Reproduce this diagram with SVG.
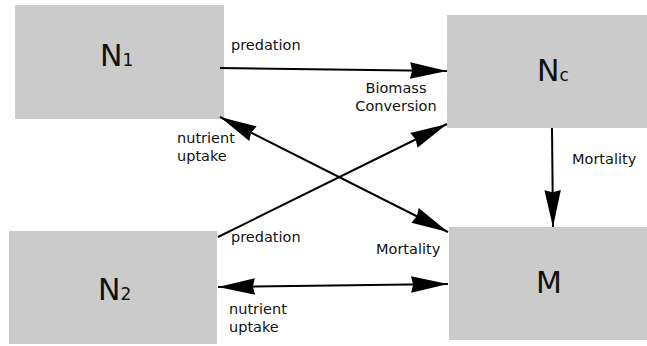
<svg xmlns="http://www.w3.org/2000/svg" width="647" height="346" viewBox="0 0 647 346">
<style>
.box{fill:#cbcbcb}
.big{font-family:"DejaVu Sans",sans-serif;font-size:30px;fill:#111}
.sub{font-size:17px}
.lbl{font-family:"DejaVu Sans",sans-serif;font-size:14.5px;fill:#111}
.c{stroke:#000;stroke-width:2;fill:none}
</style>
<defs>
<marker id="ah" markerUnits="userSpaceOnUse" markerWidth="40" markerHeight="20" viewBox="-37 -9 39 18" refX="0" refY="0" orient="auto-start-reverse">
<path d="M0,0 L-36,-8 L-34,0 L-36,8 Z" fill="#000"/>
</marker>
</defs>
<rect width="647" height="346" fill="#fff"/>
<g id="N1"><rect class="box" x="15" y="5" width="209" height="114"/><text class="big" x="100" y="66">N<tspan class="sub">1</tspan></text></g>
<g id="Nc"><rect class="box" x="447" y="15" width="200" height="113"/><text class="big" x="537" y="81">N<tspan class="sub">c</tspan></text></g>
<g id="N2"><rect class="box" x="9" y="231" width="208" height="113"/><text class="big" x="98" y="300">N<tspan class="sub">2</tspan></text></g>
<g id="M"><rect class="box" x="449" y="227" width="198" height="113"/><text class="big" x="536" y="293">M</text></g>
<g id="connectors">
<line class="c" x1="220" y1="68" x2="447" y2="71" marker-end="url(#ah)"/>
<line class="c" x1="220" y1="117" x2="448" y2="232" marker-start="url(#ah)" marker-end="url(#ah)"/>
<line class="c" x1="218" y1="237" x2="447" y2="124" marker-end="url(#ah)"/>
<line class="c" x1="552" y1="128" x2="553" y2="227" marker-end="url(#ah)"/>
<line class="c" x1="218" y1="287" x2="448" y2="284" marker-start="url(#ah)" marker-end="url(#ah)"/>
</g>
<g id="labels">
<text class="lbl" x="231" y="50">predation</text>
<text class="lbl" x="396" y="93" text-anchor="middle">Biomass</text>
<text class="lbl" x="396" y="111" text-anchor="middle">Conversion</text>
<text class="lbl" x="177" y="143">nutrient</text>
<text class="lbl" x="177" y="161">uptake</text>
<text class="lbl" x="572" y="164">Mortality</text>
<text class="lbl" x="231" y="242">predation</text>
<text class="lbl" x="376" y="254">Mortality</text>
<text class="lbl" x="229" y="314">nutrient</text>
<text class="lbl" x="229" y="332">uptake</text>
</g>
</svg>
